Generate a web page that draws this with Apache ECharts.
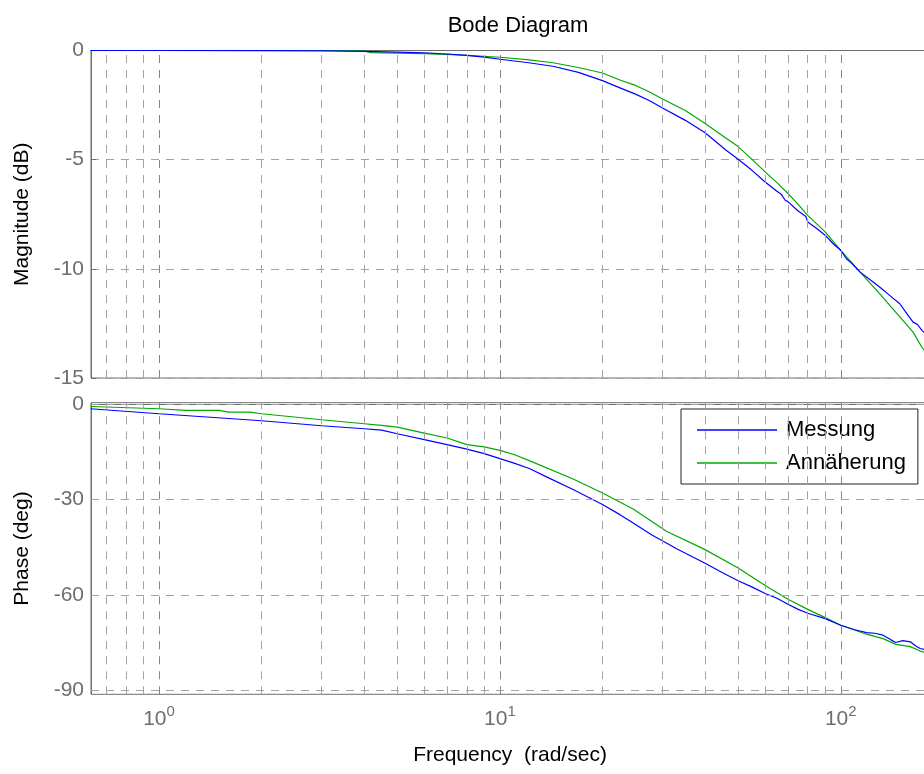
<!DOCTYPE html>
<html lang="de">

<head>
  <meta charset="UTF-8">
  <title>Bode Diagram</title>
  <style>
    html,
    body {
      margin: 0;
      padding: 0;
      background: #fff;
    }

    #chart {
      width: 924px;
      height: 774px;
    }
  </style>
</head>

<body>
  <div id="chart"></div>
</body>
<script src="https://cdn.jsdelivr.net/npm/echarts@6.0.0/dist/echarts.min.js"></script>
<script>
  // Betrag (dB), Messung
  var magMessFreq = [0.63, 1, 2, 3, 4, 5, 6, 7, 8, 9, 10, 12, 14.3, 17, 20, 22.5, 25, 27.5, 30, 35, 40, 46, 50, 55, 60, 65, 67, 68.7, 70, 75, 79, 80, 85, 90, 95, 100, 104, 107, 114, 122, 130, 140, 149, 157, 163, 168, 173, 180, 190, 199]
  var magMess = [0, 0, -0.01, -0.02, -0.04, -0.07, -0.11, -0.16, -0.22, -0.3, -0.4, -0.55, -0.72, -1.0, -1.38, -1.71, -2.0, -2.3, -2.63, -3.2, -3.77, -4.56, -4.98, -5.5, -6.02, -6.45, -6.6, -6.86, -6.92, -7.35, -7.6, -7.85, -8.15, -8.46, -8.85, -9.15, -9.55, -9.7, -10.15, -10.5, -10.83, -11.25, -11.6, -12.1, -12.44, -12.55, -12.82, -13.05, -13.4, -13.7]

  // Betrag (dB), Annäherung
  var magAnnFreq = [0.63, 1, 2, 3, 3.9, 4.2, 5, 6, 7, 8, 10, 12, 14.3, 17, 20, 22.5, 25, 27.5, 30, 35, 40, 45, 50, 55, 60, 65, 70, 75, 80, 90, 100, 114, 130, 149, 163, 173, 190, 199]
  var magAnn = [0, 0, 0, 0, 0, -0.1, -0.12, -0.15, -0.18, -0.22, -0.31, -0.42, -0.56, -0.78, -1.03, -1.35, -1.6, -1.9, -2.22, -2.75, -3.34, -3.9, -4.4, -5.0, -5.56, -6.05, -6.55, -7.05, -7.55, -8.31, -9.15, -10.15, -11.14, -12.2, -12.9, -13.59, -14.4, -14.8]

  // Phase (deg), Messung
  var phMessFreq = [0.63, 1, 2, 3, 4, 4.5, 5, 6, 7, 8, 9, 10, 11, 12.2, 14, 16.4, 20, 22.5, 25, 28, 30.8, 33, 40, 45, 50, 55, 60, 65, 70, 75, 80, 90, 100, 110, 119, 126, 133, 140, 145, 152, 160, 166, 171, 185, 199]
  var phMess = [-1.41, -2.98, -5.18, -6.75, -7.69, -8.1, -9.26, -11.1, -12.7, -14.1, -15.5, -17.1, -18.5, -20.2, -23.3, -26.8, -31.5, -34.7, -37.8, -41.2, -43.6, -45.4, -50.0, -53.0, -55.5, -57.5, -59.5, -61.0, -62.9, -64.5, -65.7, -67.4, -69.5, -70.9, -71.8, -72.0, -72.6, -74.0, -74.9, -74.3, -74.7, -76.0, -76.8, -77.6, -78.5]

  // Phase (deg), Annäherung
  var phAnnFreq = [0.63, 1, 1.2, 1.5, 1.6, 1.85, 2, 3, 4, 4.5, 5, 6, 7, 8, 9, 10, 11, 12.2, 16.4, 20, 24.6, 30.8, 40, 50, 60, 70, 80, 90, 100, 119, 133, 145, 160, 171, 185, 199]
  var phAnn = [-0.69, -1.41, -1.94, -1.94, -2.46, -2.46, -2.98, -4.86, -6.12, -6.65, -7.16, -9.05, -10.6, -12.7, -13.4, -14.5, -15.8, -17.7, -23.5, -27.9, -32.9, -39.9, -45.7, -51.5, -57, -61.3, -64.5, -67.1, -69.5, -72.3, -73.7, -75.5, -76.2, -77.6, -78.6, -79.3]

  // Gitter / Achsen
  var freqMinor = [0.7, 0.8, 0.9, 2, 3, 4, 5, 6, 7, 8, 9, 20, 30, 40, 50, 60, 70, 80, 90]
  var freqMajor = [1, 10, 100]
  var phaseTicks = [0, -30, -60, -90]

  var gray = '#6e6e6e'
  var dash = [8, 7]

  function pairs(xs, ys) {
    return xs.map(function (x, i) { return [x, ys[i]] })
  }

  function gridLines(idx, hor) {
    var data = []
    freqMinor.forEach(function (f) {
      data.push({ xAxis: f, lineStyle: { color: '#a3a3a3' } })
    })
    freqMajor.forEach(function (f) {
      data.push({ xAxis: f, lineStyle: { color: '#858585' } })
    })
    ;(hor || []).forEach(function (v) {
      data.push({ yAxis: v, lineStyle: { color: '#a3a3a3' } })
    })
    return {
      type: 'line',
      xAxisIndex: idx,
      yAxisIndex: idx,
      data: [],
      silent: true,
      z: 1,
      markLine: {
        silent: true,
        symbol: 'none',
        animation: false,
        label: { show: false },
        lineStyle: { type: dash, width: 1 },
        data: data
      }
    }
  }

  function xAx(idx, showLabel) {
    return {
      type: 'log',
      logBase: 10,
      gridIndex: idx,
      min: 0.6317,
      max: 199.5,
      axisLine: { show: true, lineStyle: { color: gray, width: 1 } },
      axisTick: { show: false },
      splitLine: { show: false },
      minorTick: { show: false },
      axisLabel: {
        show: showLabel,
        margin: 10,
        hideOverlap: false,
        formatter: function (v) {
          var e = Math.log10(v)
          var r = Math.round(e)
          if (Math.abs(e - r) > 1e-6) return ''
          return '{b|10}{e|' + r + '}'
        },
        rich: {
          b: { fontSize: 21, color: gray, fontFamily: 'Liberation Sans' },
          e: { fontSize: 15, color: gray, fontFamily: 'Liberation Sans', padding: [0, 0, 14, 0] }
        }
      }
    }
  }

  var myChart = echarts.init(document.getElementById('chart'))
  var option = {
    animation: false,
    backgroundColor: '#fff',
    textStyle: { fontFamily: 'Liberation Sans' },
    title: {
      text: 'Bode Diagram',
      left: 513,
      top: 10,
      textAlign: 'center',
      textStyle: { fontSize: 22, fontWeight: 'normal', color: '#000', fontFamily: 'Liberation Sans' }
    },
    legend: {
      data: ['Messung', 'Annäherung'],
      orient: 'vertical',
      left: 681,
      top: 409,
      icon: 'rect',
      itemWidth: 80,
      itemHeight: 1.4,
      itemGap: 11,
      padding: [10, 12, 10, 16],
      borderColor: '#222',
      borderWidth: 1,
      borderRadius: 0,
      backgroundColor: '#fff',
      textStyle: { fontSize: 22, color: '#000', padding: [0, 0, 0, 4] }
    },
    grid: [
      { left: 91, top: 50.5, width: 852, height: 327.5, show: true, borderColor: gray, borderWidth: 1, backgroundColor: 'transparent', outerBoundsMode: 'none', containLabel: false },
      { left: 91, top: 402.7, width: 852, height: 291.6, show: true, borderColor: gray, borderWidth: 1, backgroundColor: 'transparent', outerBoundsMode: 'none', containLabel: false }
    ],
    xAxis: [
      xAx(0, false),
      Object.assign(xAx(1, true), {
        name: 'Frequency  (rad/sec)',
        nameLocation: 'middle',
        nameGap: 50,
        nameTextStyle: { fontSize: 21, color: '#000', padding: [0, 14, 0, 0] }
      })
    ],
    yAxis: [
      {
        type: 'value',
        gridIndex: 0,
        min: -15,
        max: 0,
        interval: 5,
        name: 'Magnitude (dB)',
        nameLocation: 'middle',
        nameGap: 58,
        nameTextStyle: { fontSize: 21, color: '#000' },
        axisLine: { show: true, lineStyle: { color: gray } },
        axisTick: { show: true, inside: true, length: 5, lineStyle: { color: gray } },
        axisLabel: { fontSize: 21, color: gray, margin: 7 },
        splitLine: { show: true, lineStyle: { color: '#a3a3a3', type: dash } }
      },
      {
        type: 'value',
        gridIndex: 1,
        min: -91.2,
        max: 0.5,
        name: 'Phase (deg)',
        nameLocation: 'middle',
        nameGap: 58,
        nameTextStyle: { fontSize: 21, color: '#000' },
        axisLine: { show: true, lineStyle: { color: gray } },
        axisTick: { show: true, inside: true, length: 5, lineStyle: { color: gray }, customValues: phaseTicks },
        axisLabel: { fontSize: 21, color: gray, margin: 7, customValues: phaseTicks },
        splitLine: { show: false }
      }
    ],
    series: [
      gridLines(0),
      gridLines(1, phaseTicks),
      {
        name: 'Messung', type: 'line', xAxisIndex: 0, yAxisIndex: 0, symbol: 'none', z: 3,
        lineStyle: { color: '#0000ff', width: 1.2 }, itemStyle: { color: '#0000ff' },
        data: pairs(magMessFreq, magMess)
      },
      {
        name: 'Annäherung', type: 'line', xAxisIndex: 0, yAxisIndex: 0, symbol: 'none', z: 2,
        lineStyle: { color: '#00a800', width: 1.2 }, itemStyle: { color: '#00a800' },
        data: pairs(magAnnFreq, magAnn)
      },
      {
        name: 'Messung', type: 'line', xAxisIndex: 1, yAxisIndex: 1, symbol: 'none', z: 3,
        lineStyle: { color: '#0000ff', width: 1.2 }, itemStyle: { color: '#0000ff' },
        data: pairs(phMessFreq, phMess)
      },
      {
        name: 'Annäherung', type: 'line', xAxisIndex: 1, yAxisIndex: 1, symbol: 'none', z: 2,
        lineStyle: { color: '#00a800', width: 1.2 }, itemStyle: { color: '#00a800' },
        data: pairs(phAnnFreq, phAnn)
      }
    ]
  }
  myChart.setOption(option)
</script>

</html>
